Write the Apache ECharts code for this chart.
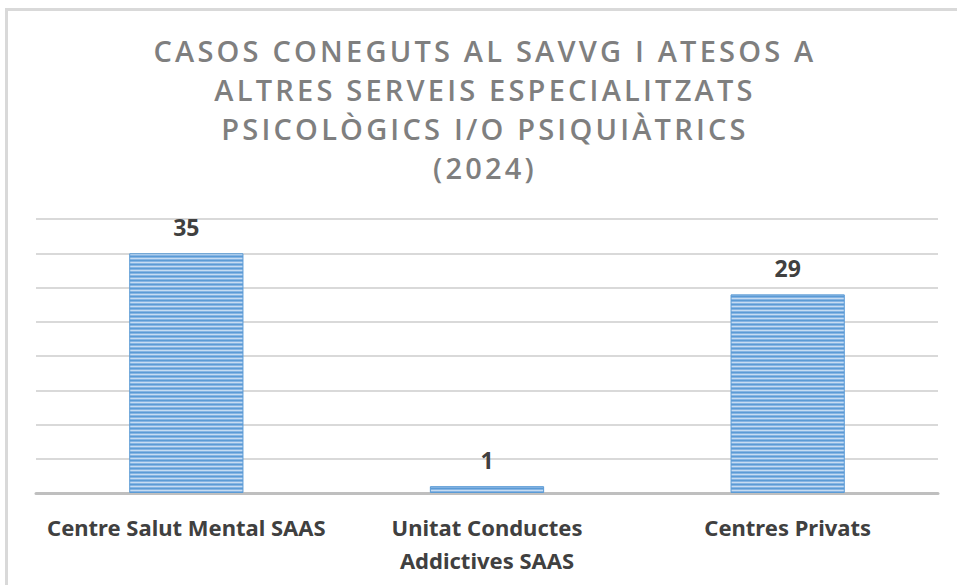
<!DOCTYPE html>
<html>
<head>
<meta charset="utf-8">
<title>Casos coneguts al SAVVG</title>
<script src="https://cdn.jsdelivr.net/npm/echarts@6/dist/echarts.min.js"></script>
<style>
  html, body { margin: 0; padding: 0; background: #fff; }
  #chart { width: 957px; height: 585px; }
  /* espaiat de lletres del títol (només el text en Open Sans) */
  #chart text[style*="Open Sans"] { letter-spacing: 3.2px; }
</style>
</head>
<body>
<div id="chart"></div>
<script>
  // dades del gràfic
  const categories = ['Centre Salut Mental SAAS', 'Unitat Conductes\nAddictives SAAS', 'Centres Privats'];
  const values = [35, 1, 29];
  const titleText = 'CASOS CONEGUTS AL SAVVG I ATESOS A\nALTRES SERVEIS ESPECIALITZATS\nPSICOLÒGICS I/O PSIQUIÀTRICS\n(2024)';

  // trama de ratlles horitzontals per a les barres
  function stripePattern() {
    const c = document.createElement('canvas');
    c.width = 4;
    c.height = 4;
    const ctx = c.getContext('2d');
    const rows = ['#5B9BD5', '#86B4E3', '#C6DCF2', '#86B4E3'];
    rows.forEach((col, i) => {
      ctx.fillStyle = col;
      ctx.fillRect(0, i, 4, 1);
    });
    return { image: c, repeat: 'repeat' };
  }

  const myChart = echarts.init(document.getElementById('chart'), null, { renderer: 'svg' });

  const option = {
    backgroundColor: '#ffffff',
    animation: false,
    title: {
      text: titleText,
      left: 485,
      top: 31,
      padding: 0,
      textAlign: 'center',
      textStyle: {
        fontFamily: 'Open Sans',
        fontSize: 29,
        fontWeight: 600,
        color: '#7F7F7F',
        lineHeight: 39
      }
    },
    graphic: [{
      type: 'rect',
      silent: true,
      shape: { x: 6.5, y: 9.5, width: 1000, height: 700 },
      style: { fill: 'none', stroke: '#D9D9D9', lineWidth: 3 }
    }],
    grid: {
      left: 36,
      right: 19,
      top: 219,
      bottom: 92,
      containLabel: false
    },
    xAxis: {
      type: 'category',
      data: categories,
      axisTick: { show: false },
      axisLine: { lineStyle: { color: '#BFBFBF', width: 3 } },
      axisLabel: {
        interval: 0,
        margin: 17,
        fontFamily: 'Noto Sans',
        fontSize: 22,
        fontWeight: 'bold',
        color: '#404040',
        lineHeight: 33
      }
    },
    yAxis: {
      type: 'value',
      min: 0,
      max: 40,
      interval: 5,
      axisLabel: { show: false },
      axisLine: { show: false },
      axisTick: { show: false },
      splitLine: { lineStyle: { color: '#D9D9D9', width: 2 } }
    },
    series: [{
      type: 'bar',
      data: values,
      barWidth: '38%',
      itemStyle: {
        color: stripePattern(),
        borderColor: '#5B9BD5',
        borderWidth: 1
      },
      label: {
        show: true,
        position: 'top',
        distance: 15,
        fontFamily: 'Noto Sans',
        fontSize: 23,
        fontWeight: 'bold',
        color: '#404040'
      }
    }]
  };

  myChart.setOption(option);
</script>
</body>
</html>
